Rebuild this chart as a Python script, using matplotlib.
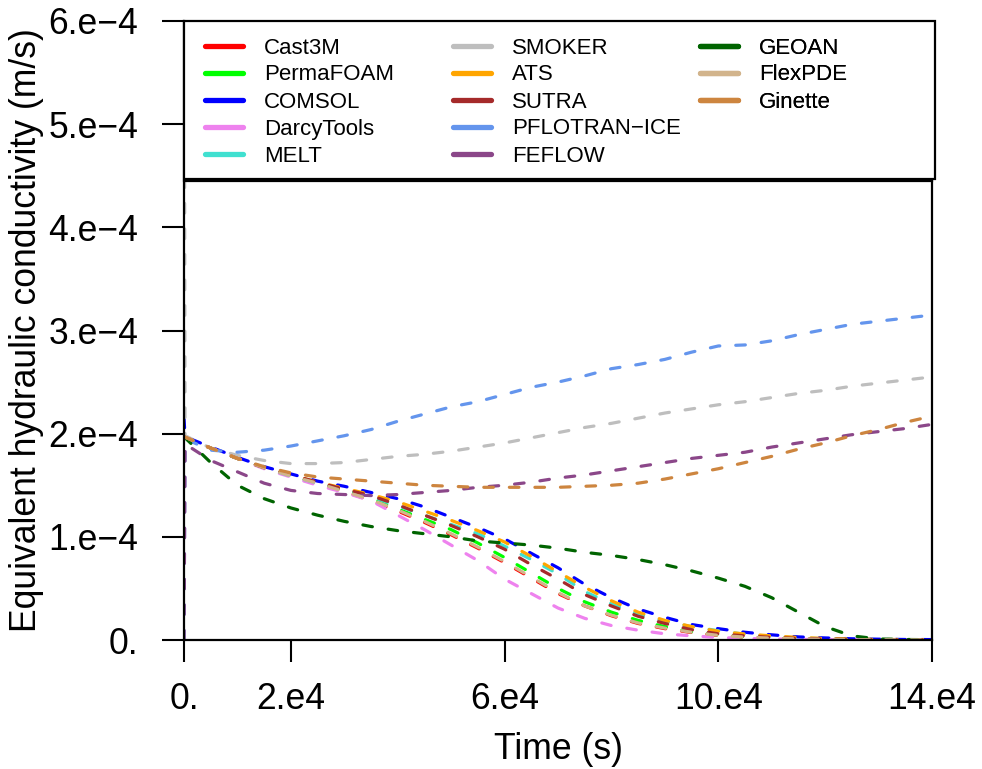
import matplotlib
matplotlib.use("Agg")
import matplotlib.pyplot as plt
import numpy as np
from matplotlib.lines import Line2D
from matplotlib.patches import Rectangle

plt.rcParams['font.family'] = ['Liberation Sans', 'DejaVu Sans']

# time in units of 1e4 s, conductivity in units of 1e-4 m/s
TIME = [0, 0.5, 1, 1.5, 2, 2.5, 3, 3.5, 4, 4.5, 5, 5.5, 6, 6.5, 7,
        7.5, 8, 8.5, 9, 9.5, 10, 10.5, 11, 11.5, 12, 12.5, 13, 13.5, 14]

cast3m = [1.97, 1.86, 1.76, 1.67, 1.59, 1.52, 1.44, 1.35, 1.25, 1.14,
          1.02, 0.89, 0.75, 0.60, 0.45, 0.33, 0.235, 0.16, 0.11, 0.072,
          0.043, 0.027, 0.017, 0.011, 0.007, 0.004, 0.003, 0.002, 0.001]
permafoam = [1.97, 1.86, 1.76, 1.67, 1.59, 1.52, 1.45, 1.37, 1.27, 1.17,
             1.07, 0.94, 0.80, 0.65, 0.50, 0.37, 0.27, 0.19, 0.13, 0.08,
             0.05, 0.03, 0.02, 0.012, 0.008, 0.005, 0.003, 0.002, 0.001]
comsol = [1.97, 1.87, 1.77, 1.68, 1.61, 1.54, 1.49, 1.43, 1.37, 1.29,
          1.19, 1.09, 0.98, 0.84, 0.70, 0.54, 0.41, 0.30, 0.22, 0.15,
          0.11, 0.075, 0.05, 0.03, 0.02, 0.012, 0.008, 0.005, 0.004]
darcytools = [1.97, 1.86, 1.76, 1.66, 1.58, 1.50, 1.43, 1.35, 1.21, 1.07,
              0.92, 0.77, 0.59, 0.45, 0.31, 0.21, 0.14, 0.095, 0.06, 0.04,
              0.025, 0.015, 0.01, 0.006, 0.004, 0.003, 0.002, 0.001, 0.001]
melt = [1.97, 1.86, 1.76, 1.67, 1.59, 1.52, 1.46, 1.39, 1.30, 1.21,
        1.12, 1.03, 0.91, 0.78, 0.64, 0.47, 0.35, 0.25, 0.18, 0.13,
        0.09, 0.055, 0.035, 0.02, 0.012, 0.008, 0.005, 0.003, 0.002]
smoker = [1.98, 1.86, 1.79, 1.74, 1.71, 1.71, 1.72, 1.75, 1.78, 1.80,
          1.83, 1.87, 1.91, 1.96, 2.01, 2.06, 2.10, 2.15, 2.20, 2.24,
          2.28, 2.31, 2.35, 2.39, 2.42, 2.46, 2.49, 2.52, 2.55]
ats = [1.97, 1.86, 1.76, 1.67, 1.60, 1.53, 1.47, 1.41, 1.34, 1.25,
       1.16, 1.06, 0.95, 0.81, 0.66, 0.51, 0.38, 0.27, 0.19, 0.13,
       0.085, 0.058, 0.04, 0.025, 0.015, 0.01, 0.006, 0.004, 0.003]
sutra = [1.97, 1.86, 1.76, 1.67, 1.60, 1.53, 1.46, 1.40, 1.31, 1.21,
         1.11, 1.00, 0.88, 0.73, 0.59, 0.44, 0.33, 0.23, 0.16, 0.10,
         0.06, 0.04, 0.025, 0.015, 0.01, 0.006, 0.004, 0.003, 0.002]
pflotran = [1.95, 1.84, 1.82, 1.84, 1.88, 1.93, 1.98, 2.04, 2.12, 2.19,
            2.26, 2.31, 2.38, 2.45, 2.50, 2.56, 2.63, 2.67, 2.72, 2.79,
            2.85, 2.86, 2.90, 2.96, 3.01, 3.06, 3.09, 3.12, 3.15]
feflow = [1.90, 1.74, 1.63, 1.52, 1.45, 1.42, 1.41, 1.40, 1.41, 1.43,
          1.45, 1.48, 1.50, 1.53, 1.57, 1.60, 1.64, 1.68, 1.72, 1.76,
          1.79, 1.82, 1.87, 1.91, 1.95, 1.99, 2.02, 2.05, 2.09]
geoan = [1.97, 1.72, 1.50, 1.37, 1.28, 1.21, 1.15, 1.10, 1.06, 1.03,
         1.00, 0.96, 0.94, 0.92, 0.89, 0.85, 0.82, 0.78, 0.73, 0.67,
         0.60, 0.52, 0.41, 0.27, 0.13, 0.04, 0.01, 0.005, 0.003]
flexpde = [1.97, 1.86, 1.76, 1.67, 1.59, 1.52, 1.44, 1.36, 1.26, 1.15,
           1.03, 0.90, 0.76, 0.61, 0.46, 0.33, 0.24, 0.165, 0.115, 0.075,
           0.045, 0.028, 0.018, 0.011, 0.007, 0.004, 0.003, 0.002, 0.001]
ginette = [1.97, 1.86, 1.76, 1.68, 1.62, 1.58, 1.56, 1.54, 1.52, 1.50,
           1.49, 1.48, 1.48, 1.48, 1.48, 1.49, 1.50, 1.52, 1.56, 1.61,
           1.66, 1.72, 1.78, 1.85, 1.91, 1.98, 2.04, 2.11, 2.17]

# value at the very first instant for codes that jump at t = 0
INITIAL = {"COMSOL": 2.15, "SMOKER": 8.0, "PFLOTRAN\u2212ICE": 0.0, "FEFLOW": 0.0}
JUMP_T = 0.02

NAMES = ["Cast3M", "PermaFOAM", "COMSOL", "DarcyTools", "MELT",
         "SMOKER", "ATS", "SUTRA", "PFLOTRAN\u2212ICE", "FEFLOW",
         "GEOAN", "FlexPDE", "Ginette"]
VALUES = [cast3m, permafoam, comsol, darcytools, melt, smoker, ats, sutra,
          pflotran, feflow, geoan, flexpde, ginette]
COLORS = ["#FF0000", "#00FF00", "#0000FF", "#EE82EE", "#40E0D0",
          "#BEBEBE", "#FFA500", "#A52A2A", "#6495ED", "#8B4789",
          "#006400", "#D2B48C", "#CD853F"]

XTICKS = [0, 2e4, 6e4, 10e4, 14e4]
XTICKLABELS = ["0.", "2.e4", "6.e4", "10.e4", "14.e4"]
YTICKS = [0, 1e-4, 2e-4, 3e-4, 4e-4, 5e-4, 6e-4]
YTICKLABELS = ["0.", "1.e\u22124", "2.e\u22124", "3.e\u22124", "4.e\u22124",
               "5.e\u22124", "6.e\u22124"]

FS = 25.6

fig = plt.figure(figsize=(9.82, 7.69), dpi=100)
ax = fig.add_axes([184 / 982, (769 - 640) / 769, 748 / 982, 619 / 769])

for name, vals, col in zip(NAMES, VALUES, COLORS):
    t = list(TIME)
    v = list(vals)
    if name in INITIAL:
        t = [0, JUMP_T] + t[1:]
        v = [INITIAL[name]] + v
    ax.plot(np.array(t) * 1e4, np.array(v) * 1e-4, color=col, lw=2.3,
            dashes=(3, 5), dash_capstyle='round', zorder=2)

ax.set_xlim(0, 14e4)
ax.set_ylim(0, 6e-4)
ax.set_xticks(XTICKS)
ax.set_xticklabels(XTICKLABELS)
ax.set_yticks(YTICKS)
ax.set_yticklabels(YTICKLABELS)

BOX_TOP = 4.45e-4
for s in ax.spines.values():
    s.set_linewidth(1.6)
ax.spines['top'].set_position(('data', BOX_TOP))
ax.spines['right'].set_bounds(0, BOX_TOP)

ax.tick_params(axis='both', direction='out', length=16, width=1.5,
               labelsize=FS, top=False, right=False)
ax.tick_params(axis='x', pad=14)
ax.tick_params(axis='y', pad=17)

ax.set_xlabel("Time (s)", fontsize=FS)
ax.set_ylabel("Equivalent hydraulic conductivity (m/s)", fontsize=FS)
ax.xaxis.set_label_coords(0.5, -0.148)
ax.yaxis.set_label_coords(-0.187, 0.5)

# legend frame
leg_bottom = (640 - 179) / 619
frame = Rectangle((0, leg_bottom), 1.004, 1 - leg_bottom, transform=ax.transAxes,
                  facecolor='white', edgecolor='black', lw=1.6, clip_on=False,
                  zorder=5)
ax.add_patch(frame)

handles = [Line2D([], [], color=c, lw=3.8, solid_capstyle='round') for c in COLORS]
cols = [(0, 5), (5, 10), (10, 13)]
xs = [(204.5 - 184) / 748, (452.5 - 184) / 748, (699.5 - 184) / 748]
for (a, b), x0 in zip(cols, xs):
    lg = ax.legend(handles[a:b], NAMES[a:b], loc='upper left',
                   bbox_to_anchor=(x0, (640 - 37.5) / 619), bbox_transform=ax.transAxes,
                   frameon=False, fontsize=16, handlelength=1.75,
                   handletextpad=0.92, labelspacing=0.27, borderpad=0,
                   borderaxespad=0)
    lg.set_zorder(6)
    ax.add_artist(lg)

fig.savefig("out.png", dpi=100)
